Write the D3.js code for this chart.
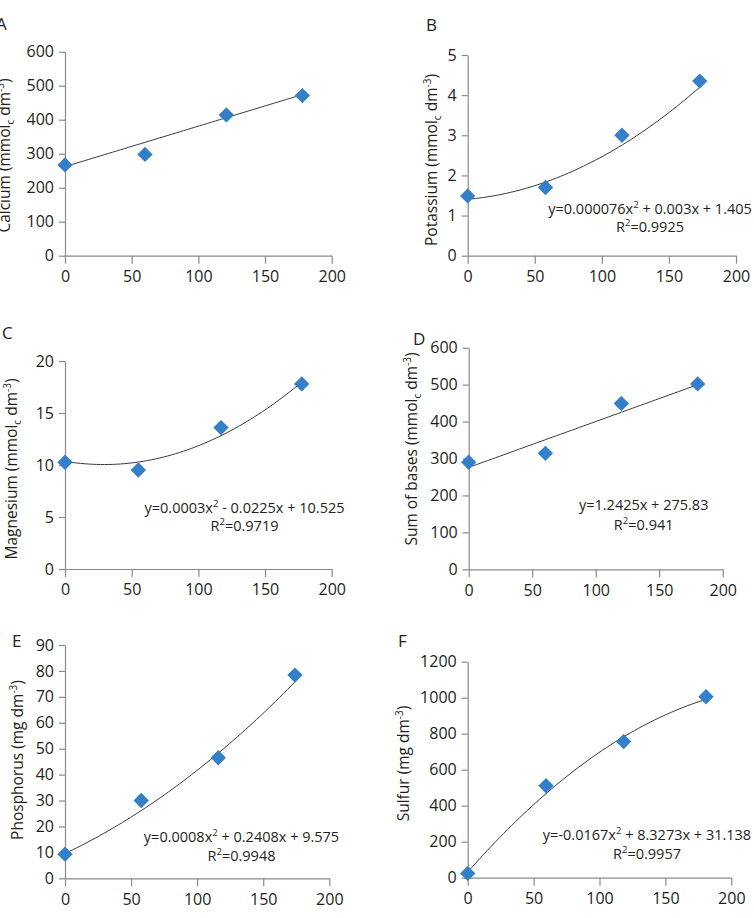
<!DOCTYPE html>
<html>
<head>
<meta charset="utf-8">
<script src="https://cdn.jsdelivr.net/npm/d3@7"></script>
<style>
  html, body { margin: 0; padding: 0; background: #fff; }
  svg { display: block; }
  text { font-family: "Open Sans", "Noto Sans", sans-serif; fill: #231f20; }
</style>
</head>
<body>
<svg id="chart" width="754" height="918"></svg>
<script>
// ---------- DATA ----------
const xTickValues = [0, 50, 100, 150, 200];

// A – Calcium
const calciumX = [0, 60, 121, 178];
const calciumY = [267, 298, 414, 471];
const calciumFit = [262, 1.19];                 // c, b
const calciumTicks = [0, 100, 200, 300, 400, 500, 600];

// B – Potassium
const potassiumX = [0, 58, 115, 173];
const potassiumY = [1.49, 1.70, 3.00, 4.35];
const potassiumFit = [1.405, 0.003, 0.000076];  // c, b, a
const potassiumTicks = [0, 1, 2, 3, 4, 5];
const potassiumEq = ["y=0.000076x", "2", " + 0.003x + 1.405"];
const potassiumR2 = "0.9925";

// C – Magnesium
const magnesiumX = [0, 55, 117, 177.5];
const magnesiumY = [10.26, 9.52, 13.6, 17.8];
const magnesiumFit = [10.35, -0.021, 0.00036];
const magnesiumTicks = [0, 5, 10, 15, 20];
const magnesiumEq = ["y=0.0003x", "2", " - 0.0225x + 10.525"];
const magnesiumR2 = "0.9719";

// D – Sum of bases
const basesX = [0, 60.4, 120.2, 180.3];
const basesY = [290, 314, 449, 502];
const basesFit = [275.83, 1.2425];
const basesTicks = [0, 100, 200, 300, 400, 500, 600];
const basesEq = ["y=1.2425x + 275.83"];
const basesR2 = "0.941";

// E – Phosphorus
const phosphorusX = [0, 57.7, 116, 174];
const phosphorusY = [9.3, 30, 46.5, 78.4];
const phosphorusFit = [9.575, 0.2408, 0.0008];
const phosphorusTicks = [0, 10, 20, 30, 40, 50, 60, 70, 80, 90];
const phosphorusEq = ["y=0.0008x", "2", " + 0.2408x + 9.575"];
const phosphorusR2 = "0.9948";

// F – Sulfur
const sulfurX = [0, 59.4, 118.3, 180.8];
const sulfurY = [24, 511, 756, 1005];
const sulfurFit = [31.138, 8.3273, -0.0167];
const sulfurTicks = [0, 200, 400, 600, 800, 1000, 1200];
const sulfurEq = ["y=-0.0167x", "2", " + 8.3273x + 31.138"];
const sulfurR2 = "0.9957";

// ---------- LAYOUT ----------
const panels = [
  { letter: "A", xs: calciumX, ys: calciumY, fit: calciumFit, ticks: calciumTicks,
    label: ["Calcium (mmol", "c", " dm", "-3", ")"],
    x0: 65, x1: 331.7, yTop: 51.7, yBot: 255.7,
    letterPos: [-4, 30], labelPos: [9.5, 155.5], eq: null },
  { letter: "B", xs: potassiumX, ys: potassiumY, fit: potassiumFit, ticks: potassiumTicks,
    label: ["Potassium (mmol", "c", " dm", "-3", ")"],
    x0: 467.7, x1: 736, yTop: 55, yBot: 255.7,
    letterPos: [426, 31], labelPos: [436.5, 160],
    eq: potassiumEq, r2: potassiumR2, eqPos: [650, 214, 232] },
  { letter: "C", xs: magnesiumX, ys: magnesiumY, fit: magnesiumFit, ticks: magnesiumTicks,
    label: ["Magnesium (mmol", "c", " dm", "-3", ")"],
    x0: 65, x1: 331.7, yTop: 361, yBot: 569,
    letterPos: [2, 339], labelPos: [16.5, 469],
    eq: magnesiumEq, r2: magnesiumR2, eqPos: [244.5, 513, 531] },
  { letter: "D", xs: basesX, ys: basesY, fit: basesFit, ticks: basesTicks,
    label: ["Sum of bases (mmol", "c", " dm", "-3", ")"],
    x0: 468.7, x1: 722.7, yTop: 347.7, yBot: 569.3,
    letterPos: [413, 345], labelPos: [417, 449],
    eq: basesEq, r2: basesR2, eqPos: [643.7, 510, 530] },
  { letter: "E", xs: phosphorusX, ys: phosphorusY, fit: phosphorusFit, ticks: phosphorusTicks,
    label: ["Phosphorus (mg dm", null, "", "-3", ")"],
    x0: 65, x1: 329.3, yTop: 645, yBot: 878.3,
    letterPos: [12, 647], labelPos: [22.5, 760],
    eq: phosphorusEq, r2: phosphorusR2, eqPos: [241.5, 842, 861] },
  { letter: "F", xs: sulfurX, ys: sulfurY, fit: sulfurFit, ticks: sulfurTicks,
    label: ["Sulfur (mg dm", null, "", "-3", ")"],
    x0: 467.7, x1: 731.3, yTop: 661.7, yBot: 877.7,
    letterPos: [398, 647], labelPos: [408.5, 763.5],
    eq: sulfurEq, r2: sulfurR2, eqPos: [647, 840, 858.5] }
];

const svg = d3.select("#chart");
const axisColor = "#8a8a8a";
const markerColor = "#3380c8";
const fmt = d3.format("d");

function poly(coefs, x) {
  return coefs.reduce((s, c, i) => s + c * Math.pow(x, i), 0);
}

panels.forEach(p => {
  const g = svg.append("g");
  const x = d3.scaleLinear().domain([0, 200]).range([p.x0, p.x1]);
  const yMax = p.ticks[p.ticks.length - 1];
  const y = d3.scaleLinear().domain([0, yMax]).range([p.yBot, p.yTop]);

  // axes
  const xa = g.append("g").attr("transform", `translate(0,${p.yBot})`)
    .call(d3.axisBottom(x).tickValues(xTickValues).tickFormat(fmt)
      .tickSize(8).tickSizeOuter(0).tickPadding(7));
  const ya = g.append("g").attr("transform", `translate(${p.x0},0)`)
    .call(d3.axisLeft(y).tickValues(p.ticks).tickFormat(fmt)
      .tickSize(6).tickSizeOuter(0).tickPadding(5));
  [xa, ya].forEach(a => {
    a.selectAll("path, line").attr("stroke", axisColor).attr("stroke-width", 1.2);
    a.selectAll("text").style("font-size", "16px").style("fill", "#231f20")
      .style("font-family", '"Open Sans", sans-serif');
  });

  // trend curve
  const lastX = d3.max(p.xs);
  const samples = d3.range(0, 61).map(i => lastX * i / 60);
  g.append("path")
    .attr("d", d3.line().x(d => x(d)).y(d => y(poly(p.fit, d)))(samples))
    .attr("fill", "none").attr("stroke", "#3a3a3a").attr("stroke-width", 1);

  // markers
  const sym = d3.symbol().type(d3.symbolSquare).size(118);
  g.selectAll("path.pt").data(p.xs.map((v, i) => [v, p.ys[i]])).enter()
    .append("path").attr("class", "pt")
    .attr("d", sym)
    .attr("transform", d => `translate(${x(d[0])},${y(d[1])}) rotate(45)`)
    .attr("fill", markerColor);

  // panel letter
  g.append("text").attr("x", p.letterPos[0]).attr("y", p.letterPos[1])
    .style("font-size", "17px").text(p.letter);

  // y label
  const lab = g.append("text")
    .attr("transform", `translate(${p.labelPos[0]},${p.labelPos[1]}) rotate(-90)`)
    .attr("text-anchor", "middle").style("font-size", "15.5px");
  lab.append("tspan").text(p.label[0]);
  if (p.label[1]) {
    lab.append("tspan").attr("dy", 4).style("font-size", "10px").text(p.label[1]);
    lab.append("tspan").attr("dy", -4).text(p.label[2]);
  }
  lab.append("tspan").attr("dy", -6).style("font-size", "10px").text(p.label[3]);
  lab.append("tspan").attr("dy", 6).text(p.label[4]);

  // equation
  if (p.eq) {
    const e1 = g.append("text").attr("x", p.eqPos[0]).attr("y", p.eqPos[1])
      .attr("text-anchor", "middle").style("font-size", "14.5px");
    e1.append("tspan").text(p.eq[0]);
    if (p.eq.length > 1) {
      e1.append("tspan").attr("dy", -6).style("font-size", "9.5px").text(p.eq[1]);
      e1.append("tspan").attr("dy", 6).text(p.eq[2]);
    }
    const e2 = g.append("text").attr("x", p.eqPos[0]).attr("y", p.eqPos[2])
      .attr("text-anchor", "middle").style("font-size", "14.5px");
    e2.append("tspan").text("R");
    e2.append("tspan").attr("dy", -6).style("font-size", "9.5px").text("2");
    e2.append("tspan").attr("dy", 6).text("=" + p.r2);
  }
});
</script>
</body>
</html>
